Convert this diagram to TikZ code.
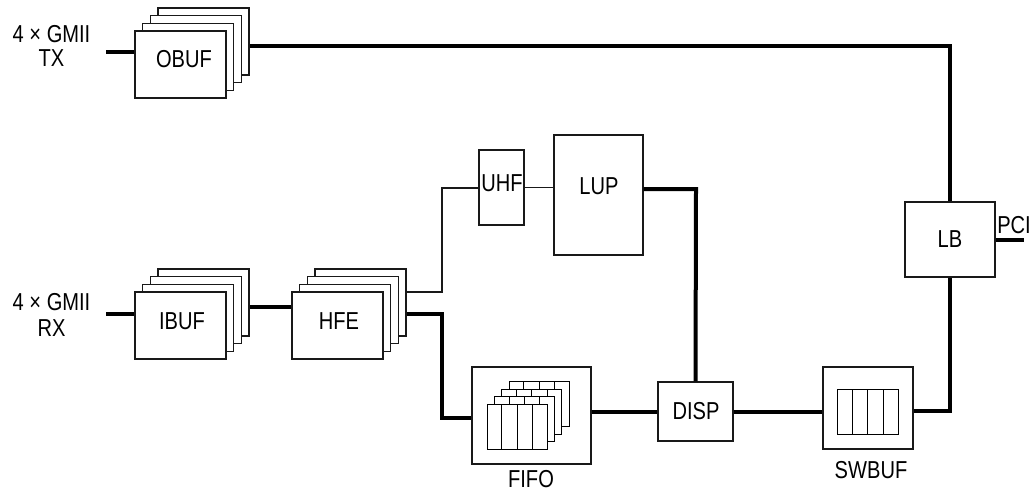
\documentclass[tikz,border=0pt]{standalone}
\usepackage{fontspec}
\setmainfont{Liberation Sans}[FakeStretch=0.82]
\usetikzlibrary{calc}
\begin{document}
\begin{tikzpicture}[x=1pt,y=-1pt,
  box/.style={draw=black!90, line width=1.3pt, fill=white, inner sep=0pt},
  cellbox/.style={draw=black, line width=1pt, fill=white, inner sep=0pt, minimum width=60, minimum height=45},
  thickln/.style={line width=4pt},
  thinln/.style={line width=1.1pt, draw=black!90},
  lbl/.style={font=\fontsize{24.5}{27}\selectfont, inner sep=0pt}]
\useasboundingbox (0,0) rectangle (1032,495);
% stacks
\foreach \k in {3,2,1,0}
  \node[box, minimum width=91, minimum height=67] (obuf\k) at (180.5+7.7*\k, 64.5-7.7*\k) {};
\foreach \k in {3,2,1,0}
  \node[box, minimum width=91, minimum height=67] (ibuf\k) at (180.5+7.7*\k, 325.5-7.7*\k) {};
\foreach \k in {3,2,1,0}
  \node[box, minimum width=91, minimum height=67] (hfe\k) at (337.5+7.7*\k, 325.5-7.7*\k) {};
\node[lbl] at (184,59) {OBUF};
\node[lbl] at (182,321) {IBUF};
\node[lbl] at (339,321) {HFE};
% single boxes
\node[box, minimum width=45, minimum height=75] (uhf) at (501.5,187.5) {};
\node[lbl] at (502,183.5) {UHF};
\node[box, minimum width=89, minimum height=120] (lup) at (598.5,195) {};
\node[lbl] at (599,186) {LUP};
\node[box, minimum width=75, minimum height=59] (disp) at (695.5,411.5) {};
\node[lbl] at (696,411) {DISP};
\node[box, minimum width=90, minimum height=75] (lb) at (950,239.5) {};
\node[lbl] at (950,239) {LB};
% FIFO
\node[box, minimum width=119, minimum height=97] (fifo) at (531.5,415.5) {};
\foreach \k in {3,2,1,0} {
  \node[cellbox] (ff\k) at (517+7.4*\k, 426.5-7.4*\k) {};
  \foreach \c in {1,2,3}
    \draw[line width=1pt] ($(ff\k.south west)!\c/4!(ff\k.south east)$) -- ($(ff\k.north west)!\c/4!(ff\k.north east)$);
}
\node[lbl] at (531,479) {FIFO};
% SWBUF
\node[box, minimum width=90, minimum height=82] (swbuf) at (868,408) {};
\node[cellbox, minimum width=61] (swc) at (867.5,411.5) {};
\foreach \c in {1,2,3}
  \draw[line width=1pt] ($(swc.south west)!\c/4!(swc.south east)$) -- ($(swc.north west)!\c/4!(swc.north east)$);
\node[lbl] at (871,470) {SWBUF};
% side labels
\node[lbl] at (51.5,34) {4 × GMII};
\node[lbl] at (51.5,58) {TX};
\node[lbl] at (51.5,302) {4 × GMII};
\node[lbl] at (51.5,328) {RX};
\node[lbl, anchor=east] at (1031,225) {PCI};
% helper coordinates
\coordinate (txin) at (106,52);
\coordinate (rxin) at (106,314);
\coordinate (bus) at (950,46);
\coordinate (ih) at (260,307);
\coordinate (j1) at (442,292);
\coordinate (j2) at (442,188);
\coordinate (j3) at (442,314);
\coordinate (j4) at (442,418);
\coordinate (j5) at (620,412);
\coordinate (j6) at (696,189);
\coordinate (j7) at (950,411);
\coordinate (pciend) at (1024,240);
% connectors
\draw[thickln] (txin) -- (txin -| obuf0.west);
\draw[thickln] (obuf3.east |- bus) -- (bus) -- (lb.north);
\draw[thickln] (rxin) -- (rxin -| ibuf0.west);
\draw[thickln] (ibuf3.east |- ih) -- (ih -| hfe0.west);
\draw[thinln] (hfe3.east |- j1) -- (j1) -- (j2) -- (j2 -| uhf.west);
\draw[thinln] (uhf.east) -- (uhf.east -| lup.west);
\draw[thickln] (hfe3.east |- j3) -- (j3) -- (j4) -- (j4 -| fifo.west);
\draw[thickln] (fifo.east |- j5) -- (j5 -| disp.west);
\draw[thickln] (lup.east |- j6) -- (j6) -- (disp.north);
\draw[thickln] (disp.east) -- (disp.east -| swbuf.west);
\draw[thickln] (swbuf.east |- j7) -- (j7) -- (lb.south);
\draw[thickln] (lb.east |- pciend) -- (pciend);
\end{tikzpicture}
\end{document}
